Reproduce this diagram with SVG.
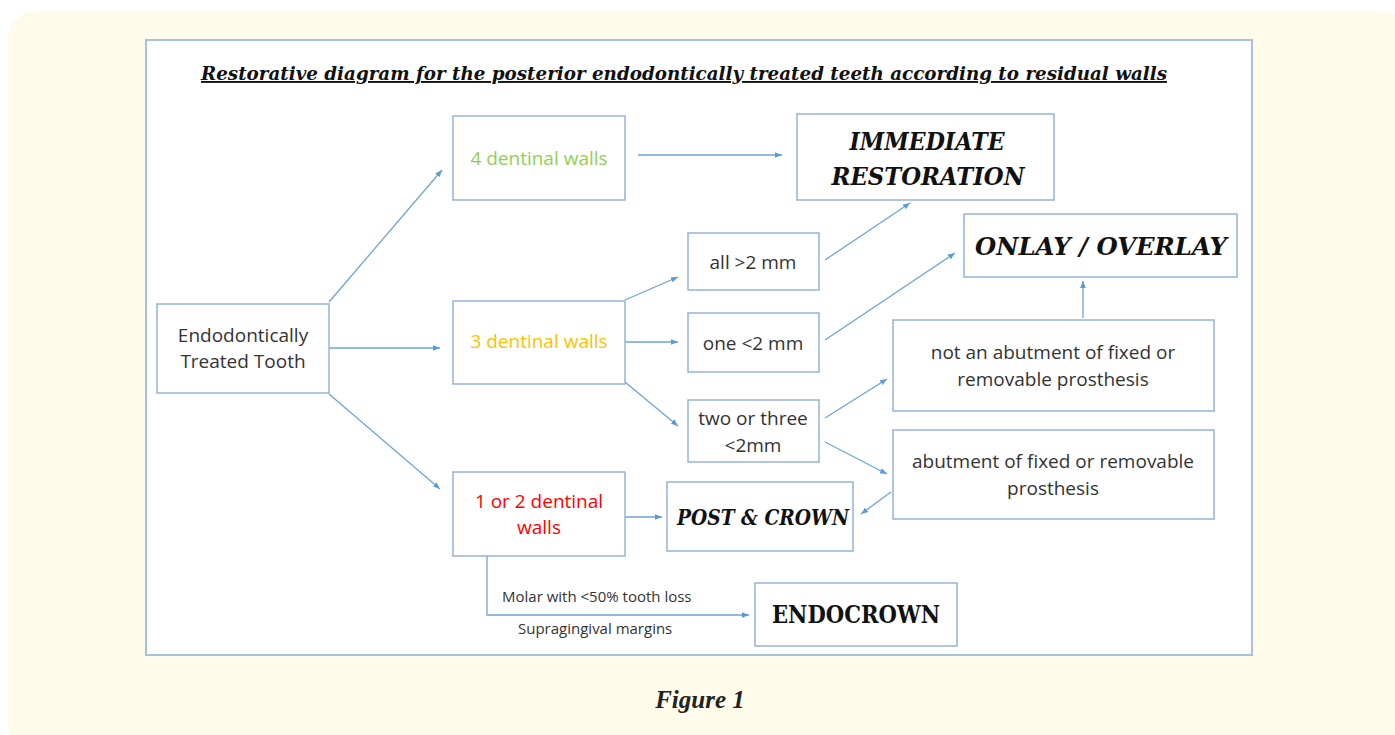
<svg xmlns="http://www.w3.org/2000/svg" width="1395" height="735" viewBox="0 0 1395 735">
<defs>
<style>
.box{fill:#fff;stroke:#95b3d7;stroke-width:1.5}
.t{font-family:"Open Sans","Noto Sans",sans-serif;font-size:19px;fill:#333;text-anchor:middle}
.big{font-family:"DejaVu Serif","Liberation Serif",serif;font-weight:bold;font-style:italic;fill:#111;text-anchor:middle}
.c{fill:none;stroke:#6fa3d8;stroke-width:1.3}
.s{font-family:"Open Sans","Noto Sans",sans-serif;font-size:15px;fill:#333}
</style>
<marker id="a" viewBox="0 0 10 10" refX="10" refY="5" markerWidth="7" markerHeight="7" orient="auto" markerUnits="userSpaceOnUse">
<path d="M0,1 L10,5 L0,9 z" fill="#5b9bd5"/>
</marker>
</defs>
<rect x="0" y="0" width="1395" height="735" fill="#ffffff"/>
<rect x="8" y="11" width="1400" height="740" rx="28" fill="#fffbea"/>
<rect x="146" y="40" width="1106" height="615" fill="#fff" stroke="#a8c1dd" stroke-width="2"/>
<text x="684" y="80" font-family="DejaVu Serif,serif" font-weight="bold" font-style="italic" font-size="19" fill="#111" text-anchor="middle" text-decoration="underline" textLength="966" lengthAdjust="spacingAndGlyphs">Restorative diagram for the posterior endodontically treated teeth according to residual walls</text>

<g id="connectors">
<line class="c" x1="329" y1="302" x2="442" y2="170" marker-end="url(#a)"/>
<line class="c" x1="329" y1="348" x2="440" y2="348" marker-end="url(#a)"/>
<line class="c" x1="329" y1="394" x2="440" y2="489" marker-end="url(#a)"/>
<line class="c" x1="638" y1="155" x2="782" y2="155" marker-end="url(#a)"/>
<line class="c" x1="825" y1="260" x2="910" y2="203" marker-end="url(#a)"/>
<line class="c" x1="825" y1="340" x2="955" y2="253" marker-end="url(#a)"/>
<line class="c" x1="625" y1="300" x2="678" y2="277" marker-end="url(#a)"/>
<line class="c" x1="625" y1="342" x2="678" y2="342" marker-end="url(#a)"/>
<line class="c" x1="625" y1="382" x2="678" y2="426" marker-end="url(#a)"/>
<line class="c" x1="825" y1="418" x2="887" y2="379" marker-end="url(#a)"/>
<line class="c" x1="825" y1="442" x2="887" y2="474" marker-end="url(#a)"/>
<line class="c" x1="1083" y1="318" x2="1083" y2="281" marker-end="url(#a)"/>
<line class="c" x1="891" y1="492" x2="861" y2="514" marker-end="url(#a)"/>
<line class="c" x1="625" y1="517" x2="662" y2="517" marker-end="url(#a)"/>
<polyline class="c" points="487,556 487,615 749,615" marker-end="url(#a)"/>
<text class="s" x="502" y="602">Molar with &lt;50% tooth loss</text>
<text class="s" x="518" y="634">Supragingival margins</text>
</g>

<g id="ett"><rect class="box" x="157" y="304" width="172" height="89"/>
<text class="t" x="243" y="342">Endodontically</text><text class="t" x="243" y="368">Treated Tooth</text></g>
<g id="w4"><rect class="box" x="453" y="116" width="172" height="84"/>
<text class="t" x="539" y="165" style="fill:#92d050">4 dentinal walls</text></g>
<g id="w3"><rect class="box" x="453" y="301" width="172" height="83"/>
<text class="t" x="539" y="348" style="fill:#ffc000">3 dentinal walls</text></g>
<g id="w12"><rect class="box" x="453" y="472" width="172" height="84"/>
<text class="t" x="539" y="508" style="fill:#ff0000">1 or 2 dentinal</text><text class="t" x="539" y="534" style="fill:#ff0000">walls</text></g>
<g id="imm"><rect class="box" x="797" y="114" width="257" height="86"/>
<text class="big" x="927" y="150" font-size="25" textLength="155" lengthAdjust="spacingAndGlyphs">IMMEDIATE</text><text class="big" x="928" y="185" font-size="25" textLength="193" lengthAdjust="spacingAndGlyphs">RESTORATION</text></g>
<g id="all2"><rect class="box" x="688" y="233" width="131" height="57"/>
<text class="t" x="753" y="269">all &gt;2 mm</text></g>
<g id="onlay"><rect class="box" x="964" y="214" width="273" height="63"/>
<text class="big" x="1101" y="255" font-size="25" textLength="252" lengthAdjust="spacingAndGlyphs">ONLAY / OVERLAY</text></g>
<g id="one2"><rect class="box" x="688" y="313" width="131" height="59"/>
<text class="t" x="753" y="350">one &lt;2 mm</text></g>
<g id="two3"><rect class="box" x="688" y="400" width="131" height="62"/>
<text class="t" x="753" y="425">two or three</text><text class="t" x="753" y="452">&lt;2mm</text></g>
<g id="notab"><rect class="box" x="893" y="320" width="321" height="91"/>
<text class="t" x="1053" y="359">not an abutment of fixed or</text><text class="t" x="1053" y="386">removable prosthesis</text></g>
<g id="ab"><rect class="box" x="893" y="430" width="321" height="89"/>
<text class="t" x="1053" y="468">abutment of fixed or removable</text><text class="t" x="1053" y="495">prosthesis</text></g>
<g id="post"><rect class="box" x="667" y="482" width="186" height="69"/>
<text class="big" x="763" y="525" font-size="22" textLength="172" lengthAdjust="spacingAndGlyphs">POST &amp; CROWN</text></g>
<g id="endo"><rect class="box" x="755" y="583" width="202" height="63"/>
<text class="big" x="856" y="623" font-size="25" textLength="168" lengthAdjust="spacingAndGlyphs" style="font-style:normal">ENDOCROWN</text></g>

<text x="700" y="708" font-family="Liberation Serif,serif" font-weight="bold" font-style="italic" font-size="25" fill="#222" text-anchor="middle">Figure 1</text>
</svg>
